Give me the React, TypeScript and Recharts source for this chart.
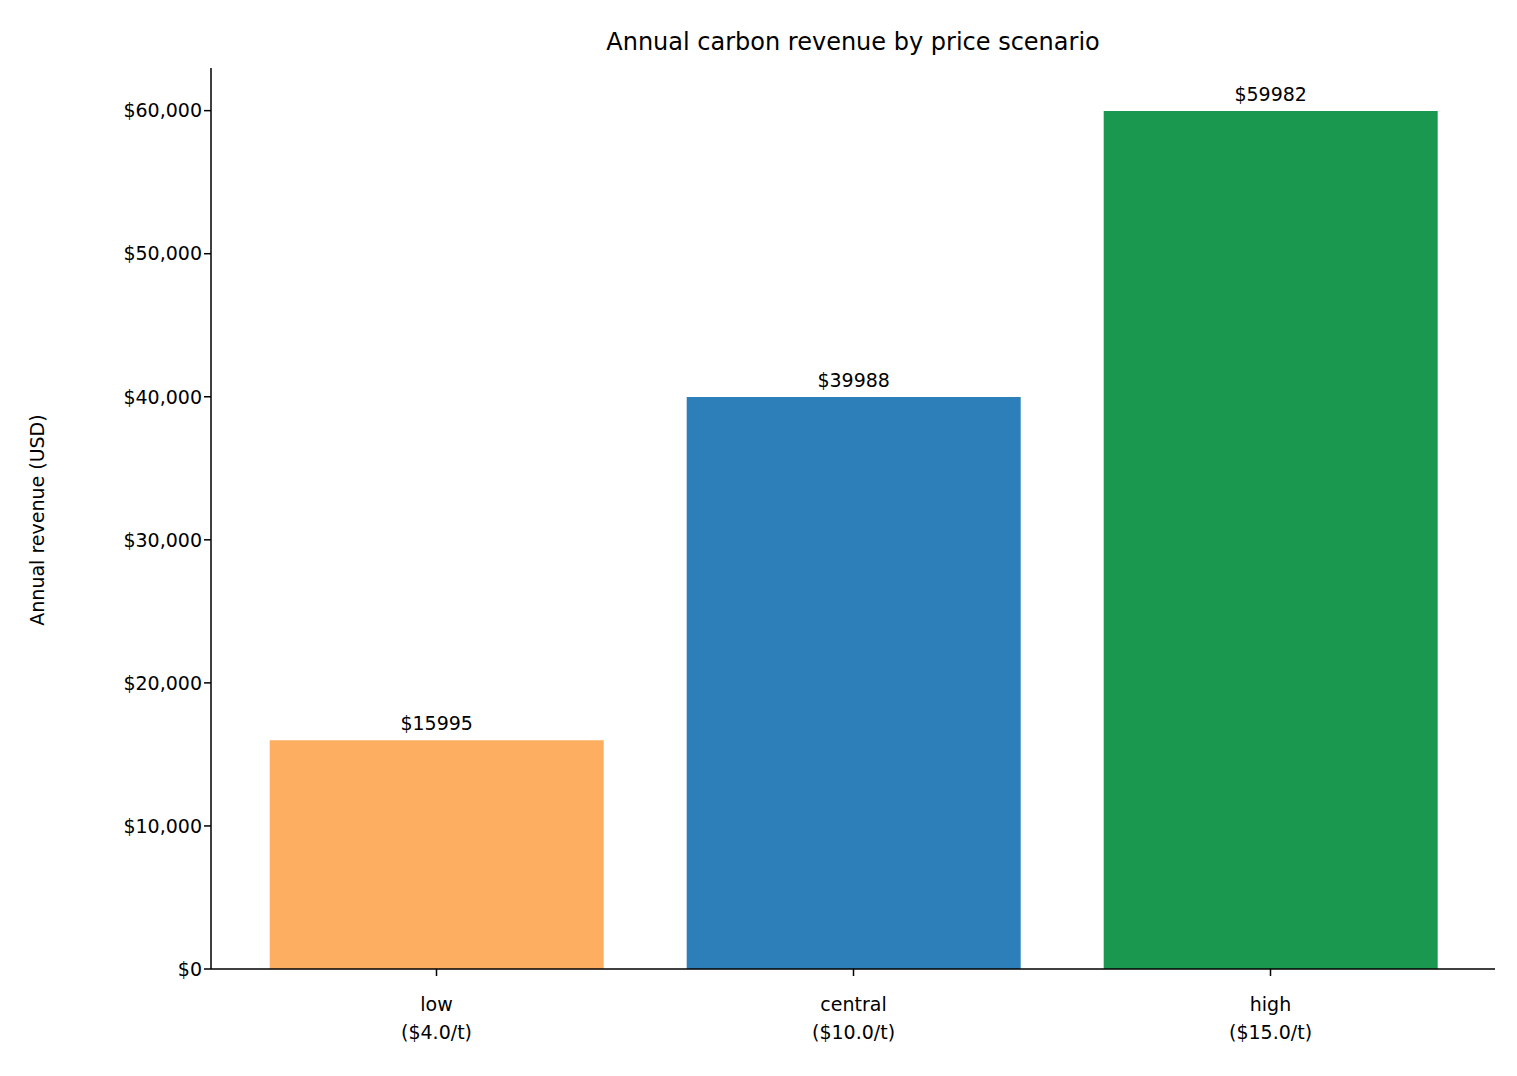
import React from "react";
import { BarChart, Bar, XAxis, YAxis, Cell, LabelList } from "recharts";

const scenarios = ["low", "central", "high"];
const prices = ["($4.0/t)", "($10.0/t)", "($15.0/t)"];
const revenues = [15995, 39988, 59982];
const colors = ["#fdae61", "#2c7fb8", "#1a9850"];
const yTicks = [0, 10000, 20000, 30000, 40000, 50000, 60000];

const data = scenarios.map((s, i) => ({ name: s, price: prices[i], value: revenues[i] }));
const font = "DejaVu Sans, sans-serif";

const XTick = (props: any) => {
  const { x, y, payload, index } = props;
  return (
    <g transform={`translate(${x},${y})`}>
      <line x1={0} x2={0} y1={-8} y2={-1} stroke="#000" strokeWidth={1.5} />
      <text textAnchor="middle" fontSize={19} fontFamily={font} fill="#000">
        <tspan x={0} dy={34}>{payload.value}</tspan>
        <tspan x={0} dy={28}>{prices[index]}</tspan>
      </text>
    </g>
  );
};

export default function App() {
  return (
    <div style={{ position: "absolute", left: 0, top: 0, width: 1517, height: 1076, background: "#fff" }}>
      <svg width={1517} height={1076} style={{ position: "absolute", left: 0, top: 0 }}>
        <text x={853} y={50} textAnchor="middle" fontSize={24} fontFamily={font}>Annual carbon revenue by price scenario</text>
        <text transform="translate(44,520) rotate(-90)" textAnchor="middle" fontSize={19} fontFamily={font}>Annual revenue (USD)</text>
      </svg>
      <BarChart
        width={1517}
        height={1076}
        data={data}
        margin={{ top: 68, left: 111, right: 22, bottom: 37 }}
        barCategoryGap="10%"
        style={{ position: "absolute", left: 0, top: 0 }}
      >
        <XAxis
          dataKey="name"
          height={70}
          padding={{ left: 17, right: 16 }}
          tickLine={false}
          tick={<XTick />}
          axisLine={{ stroke: "#000", strokeWidth: 1.5 }}
          interval={0}
        />
        <YAxis
          width={100}
          domain={[0, 62981]}
          ticks={yTicks}
          tickFormatter={(v: number) => "$" + v.toLocaleString("en-US")}
          tick={{ fontSize: 19, fontFamily: font, fill: "#000" }}
          tickLine={{ stroke: "#000", strokeWidth: 1.5 }}
          tickSize={7}
          axisLine={{ stroke: "#000", strokeWidth: 1.5 }}
          allowDataOverflow
        />
        <Bar dataKey="value" isAnimationActive={false}>
          {data.map((d, i) => (
            <Cell key={d.name} fill={colors[i]} />
          ))}
          <LabelList
            dataKey="value"
            position="top"
            offset={10}
            formatter={(v: any) => "$" + v}
            style={{ fontSize: 19, fontFamily: font, fill: "#000" }}
          />
        </Bar>
      </BarChart>
    </div>
  );
}
